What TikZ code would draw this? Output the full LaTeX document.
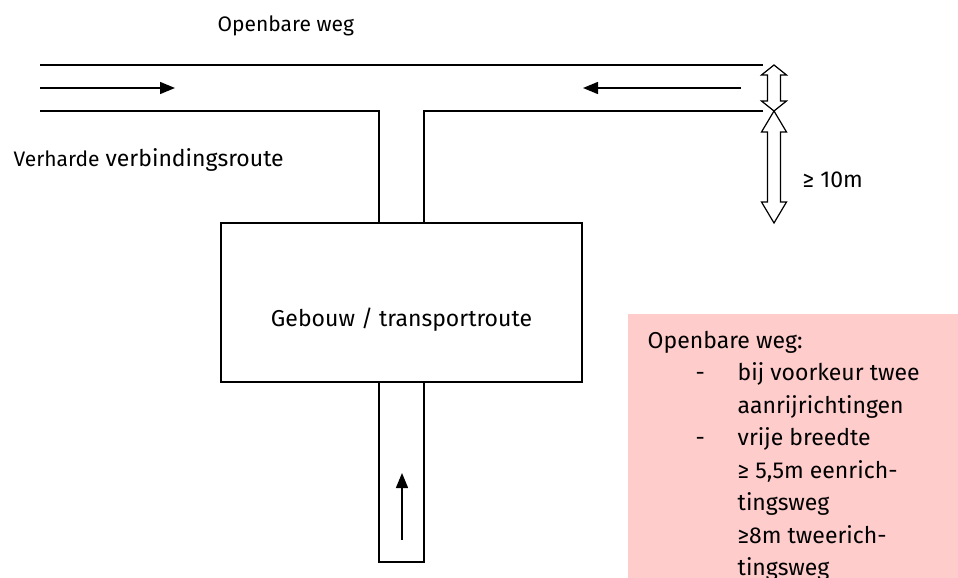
\documentclass[tikz,border=0pt]{standalone}
\usepackage{fontspec}
\setmainfont{Fira Sans}
\usepackage{xcolor}
\usepackage{tikz}
\usetikzlibrary{positioning,arrows.meta}
\definecolor{roze}{RGB}{255,204,204}

\begin{document}
\begin{tikzpicture}[x=1pt, y=-1pt, line width=1.4pt,
    pijl/.style={-{Triangle[length=15pt,width=12pt]}},
    tekst/.style={anchor=base west, inner sep=0pt, font=\fontsize{23}{28}\selectfont}]
\useasboundingbox (0,0) rectangle (958,578);
\clip (0,0) rectangle (958,578);

% Openbare weg
\draw (40,65) -- (763,65);
\draw (40,111) -- (379,111) -- (379,223);
\draw (763,111) -- (424,111) -- (424,223);
\draw[pijl] (40,88) -- (175,88);
\draw[pijl] (741,88) -- (583,88);

% Double arrows (width of road, distance)
\foreach \ya/\yb/\kop in {65/111/10, 111/223/21} {
    \draw[line width=1.2pt, fill=white] (774,\ya) -- (786.5,\ya+\kop) -- (780.5,\ya+\kop)
        -- (780.5,\yb-\kop) -- (786.5,\yb-\kop) -- (774,\yb) -- (761.5,\yb-\kop)
        -- (767.5,\yb-\kop) -- (767.5,\ya+\kop) -- (761.5,\ya+\kop) -- cycle;
}

% Gebouw and transport route
\draw (221,223) rectangle (582,382);
\draw (379,382) rectangle (424,562);
\draw[pijl] (402,540) -- (402,473);

% Labels
\node[tekst, font=\fontsize{21}{26}\selectfont] (weg) at (217,32) {Openbare weg};
\node[tekst] (route) at (13,166) {{\fontsize{21}{26}\selectfont Verharde} verbindingsroute};
\node[tekst, anchor=base] (gebouw) at (401.5,326) {Gebouw / transportroute};
\node[tekst] (afstand) at (802,187) {≥ 10m};

% Eisen openbare weg
\fill[roze] (628,314) rectangle (958,578);
\node[tekst] (eisen) at (647,348) {Openbare weg:};
\foreach \y in {380.5,445.5} {
    \node[tekst] at (695,\y) {-};
}
\foreach \y/\regel in {380.5/{bij voorkeur twee}, 413/{aanrijrichtingen}, 445.5/{vrije breedte},
    478/{≥ 5,5m eenrich-}, 510.5/{tingsweg}, 543/{≥8m tweerich-}, 575.5/{tingsweg}} {
    \node[tekst] at (737,\y) {\regel};
}
\end{tikzpicture}
\end{document}
